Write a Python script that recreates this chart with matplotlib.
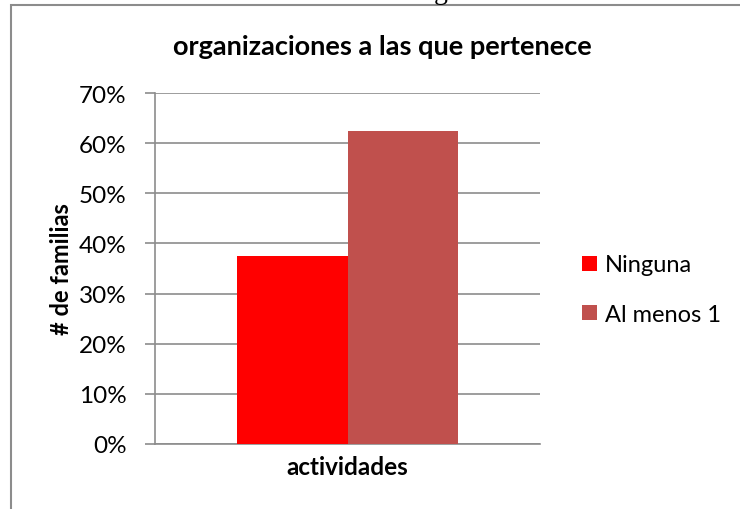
import matplotlib
matplotlib.use("Agg")
import matplotlib.pyplot as plt
from matplotlib.patches import Rectangle
from matplotlib.ticker import PercentFormatter

plt.rcParams['font.family'] = ['Lato', 'DejaVu Sans']

category = "actividades"
series_names = ["Ninguna", "Al menos 1"]
series_values = [0.375, 0.625]
series_colors = ["#FF0000", "#C0504D"]
yticks = [0, 0.1, 0.2, 0.3, 0.4, 0.5, 0.6, 0.7]

fig = plt.figure(figsize=(7.4, 5.1), dpi=100)
W, H = 740, 510

# outer chart frame (extends beyond right/bottom edges)
fig.patches.append(Rectangle((10.5 / W, -0.1), 1.2, 1 - 5.5 / H + 0.1,
                             transform=fig.transFigure, fill=False,
                             edgecolor="#8c8c8c", linewidth=1.5))
# cut-off text above the frame
fig.text(441 / W, 1 + 8 / H, "g", family="Liberation Serif", fontsize=20,
         ha="center", va="center")

ax = fig.add_axes([155 / W, 1 - 445 / H, 385 / W, 351 / H])
w = 0.287
for i, (name, v, c) in enumerate(zip(series_names, series_values, series_colors)):
    ax.bar((i - 0.5) * w, v, width=w, color=c, label=name, zorder=3)

ax.set_xlim(-0.5, 0.5)
ax.set_ylim(0, 0.7)
ax.set_yticks(yticks)
ax.yaxis.set_major_formatter(PercentFormatter(1.0, decimals=0))
ax.set_xticks([])
ax.grid(axis="y", color="#8c8c8c", linewidth=1.2, zorder=0)
for s in ["top", "right"]:
    ax.spines[s].set_visible(False)
for s in ["left", "bottom"]:
    ax.spines[s].set_color("#8c8c8c")
    ax.spines[s].set_linewidth(1.2)
ax.tick_params(axis="y", length=7, width=1.2, color="#8c8c8c", pad=13.5,
               labelsize=17.5, labelcolor="black")
ax.set_xlabel(category, fontsize=17.5, fontweight="bold", labelpad=8)
ax.set_ylabel("# de familias", fontsize=17, fontweight="bold", labelpad=4)

fig.text(382 / W, 1 - 47 / H, "organizaciones a las que pertenece",
         fontsize=19.5, fontweight="bold", ha="center", va="center")

ax.legend(loc="center left", bbox_to_anchor=(1.055, 0.44), frameon=False,
          fontsize=17, handlelength=0.6, handleheight=0.6, handletextpad=0.35,
          labelspacing=1.2)

fig.savefig("out.png", dpi=100)
